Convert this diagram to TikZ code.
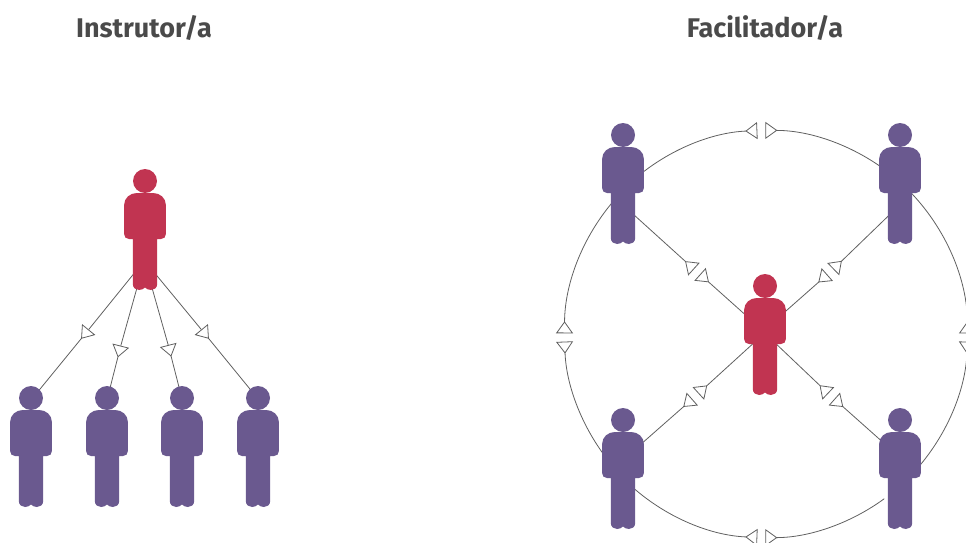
\documentclass[tikz,border=0pt]{standalone}
\usepackage{fontspec}
\setmainfont{Fira Sans}
\usetikzlibrary{arrows.meta,calc}
\definecolor{lead}{HTML}{C13451}
\definecolor{member}{HTML}{6A598F}
\definecolor{wire}{HTML}{606060}
\definecolor{heading}{HTML}{4A4A4A}
\tikzset{
  personbox/.style={inner sep=0pt,minimum width=42pt,minimum height=121pt},
  conn/.style={draw=wire,line width=0.8pt},
  tipped/.style={conn,{Triangle[reversed,length=12pt,width=17pt,fill=white]}-},
  title/.style={font=\bfseries\fontsize{27}{32}\selectfont,text=heading,anchor=base},
}
\newcommand{\personshape}[3]{%
  \fill[#3,shift={(#1,#2)}] (0,12) circle[radius=12pt]
    (-20.9,36) .. controls (-20.9,29) and (-15,24) .. (-8,24) -- (8,24)
    .. controls (15,24) and (20.9,29) .. (20.9,36) -- (20.9,65)
    .. controls (20.9,68) and (19,70) .. (16,70) -- (12.2,70) -- (12.2,115)
    .. controls (12.2,119) and (9,121) .. (6,121)
    .. controls (3.5,121) and (1.5,120) .. (0,118.5)
    .. controls (-1.5,120) and (-3.5,121) .. (-6,121)
    .. controls (-9,121) and (-12.2,119) .. (-12.2,115) -- (-12.2,70) -- (-16,70)
    .. controls (-19,70) and (-20.9,68) .. (-20.9,65) -- cycle;}
\begin{document}
\begin{tikzpicture}[x=1pt,y=-1pt]
\useasboundingbox (0,0) rectangle (966,543);
\clip (0,0) rectangle (966,543);
\node[title] (tA) at (144,37.3) {Instrutor/a};
\node[title] (tB) at (765,37.3) {Facilitador/a};
% person anchors
\foreach \n/\x/\y in {t/145/169,s1/31/386,s2/107/386,s3/182/386,s4/258/386,
  r/765/274,tl/623/123,tr/900/123,bl/623/408,br/900/408}
  \node[personbox] (\n) at (\x,\y+60.5) {};
% gap points of the doubled arrows
\coordinate (a1) at (88.7,329.5);
\coordinate (a2) at (120.8,345.7);
\coordinate (a3) at (168.2,345);
\coordinate (a4) at (201.3,329.5);
% instructor tree
\draw[conn] ($(t)+(-9,41.5)$) -- (a1);
\draw[tipped] (a1) -- ($(s1)+(5,-52.5)$);
\draw[conn] ($(t)+(-7.5,56.5)$) -- (a2);
\draw[tipped] (a2) -- ($(s2)+(2,-54.5)$);
\draw[conn] ($(t)+(6.5,56.5)$) -- (a3);
\draw[tipped] (a3) -- ($(s3)+(-2,-55.5)$);
\draw[conn] ($(t)+(8,41.5)$) -- (a4);
\draw[tipped] (a4) -- ($(s4)+(-4,-52.5)$);
% spokes
\draw[tipped] (694,269.2) coordinate (x1) -- ($(tl)+(5,26)$);
\draw[tipped] (700,274.3) coordinate (x2) -- ($(r)+(-15,-15.5)$);
\draw[tipped] (833.2,269.2) coordinate (x3) -- ($(tr)+(-5,26)$);
\draw[tipped] (827.3,274.5) coordinate (x4) -- ($(r)+(13,-16.5)$);
\draw[tipped] (698.3,393.5) coordinate (x5) -- ($(r)+(-8,5.5)$);
\draw[tipped] (692.3,399) coordinate (x6) -- ($(bl)+(17,-23.5)$);
\draw[tipped] (828.3,393.5) coordinate (x7) -- ($(r)+(7,5.5)$);
\draw[tipped] (834.3,399) coordinate (x8) -- ($(br)+(-14,-23.5)$);
% ring
\draw[tipped] (757.3,130.6) coordinate (g1) arc[start angle=92.33,end angle=132,x radius=202pt,y radius=203.6pt];
\draw[tipped] (765.3,130.4) coordinate (g2) arc[start angle=90.06,end angle=52,x radius=202pt,y radius=203.6pt];
\draw[tipped] (564.5,333.3) coordinate (g3) arc[start angle=179.8,end angle=137,x radius=202pt,y radius=203.6pt];
\draw[tipped] (564.6,341.6) coordinate (g4) arc[start angle=182.17,end angle=219,x radius=202pt,y radius=203.6pt];
\draw[tipped] (757.3,537.4) coordinate (g5) arc[start angle=267.67,end angle=226,x radius=202pt,y radius=203.6pt];
\draw[tipped] (765.3,537.6) coordinate (g6) arc[start angle=269.94,end angle=306,x radius=202pt,y radius=203.6pt];
\draw[tipped] (967.5,333.3) coordinate (g7) arc[start angle=0.2,end angle=45,x radius=202pt,y radius=203.6pt];
\draw[tipped] (967.4,341.7) coordinate (g8) arc[start angle=-2.17,end angle=-43,x radius=202pt,y radius=203.6pt];
% figures on top
\foreach \x/\y/\c in {145/169/lead,31/386/member,107/386/member,182/386/member,258/386/member,
  765/274/lead,623/123/member,900/123/member,623/408/member,900/408/member}
  {\personshape{\x}{\y}{\c}}
\end{tikzpicture}
\end{document}
